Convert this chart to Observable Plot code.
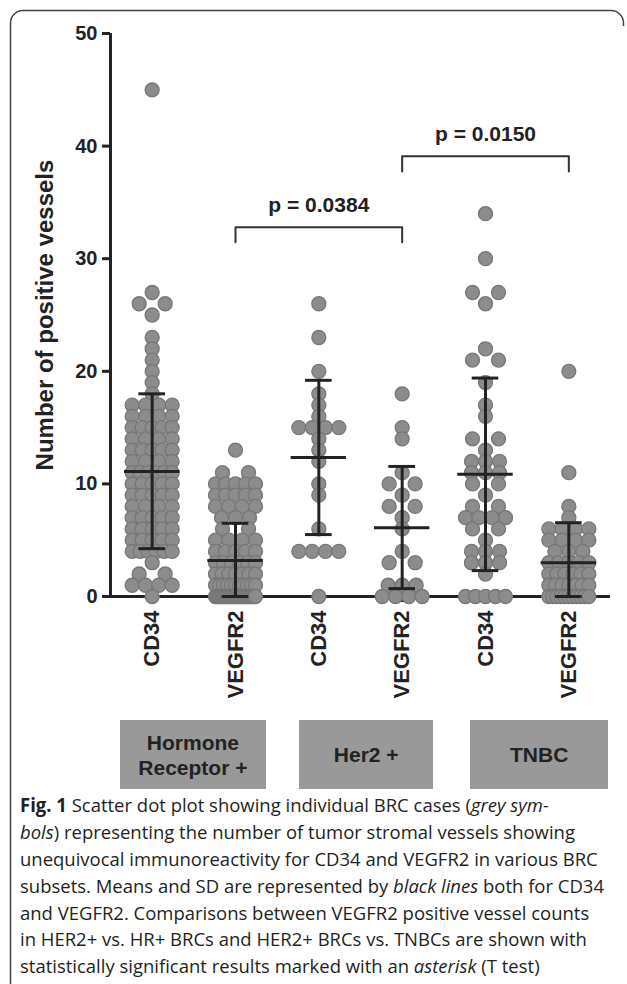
<!DOCTYPE html>
<html>
<head>
<meta charset="utf-8">
<script src="https://cdn.jsdelivr.net/npm/d3@7"></script>
<script src="https://cdn.jsdelivr.net/npm/@observablehq/plot@0.6"></script>
<style>
  html, body { margin: 0; padding: 0; background: #fff; }
  #wrap { position: relative; width: 627px; height: 984px; overflow: hidden; background: #fff; }
  #chart { position: absolute; left: 0; top: 0; }
  #frame { position: absolute; left: 0; top: 0; pointer-events: none; }
  .gbox { position: absolute; background: #999; color: #222; display: flex; align-items: center; justify-content: center;
          text-align: center; font-family: "Liberation Sans", Arial, sans-serif; font-weight: bold; font-size: 21px; line-height: 25px; white-space: pre; }
  #caption { position: absolute; left: 20px; top: 792px; font-family: "Open Sans", sans-serif; font-size: 19px; color: #231f20; }
  #caption div { white-space: nowrap; height: 26.9px; line-height: 26.9px; transform-origin: 0 50%; }
  #caption b { font-weight: bold; }
</style>
</head>
<body>
<div id="wrap">
  <div id="chart"></div>
  <div id="boxes"></div>
  <div id="caption"></div>
  <svg id="frame" width="627" height="984"><path d="M10.5,984 V23 A12.5,12.5 0 0 1 23,10.5 H611 A12.5,12.5 0 0 1 623.5,23 V26" fill="none" stroke="#444" stroke-width="1.5"/></svg>
</div>
<script>
// ---------- data ----------
const categories = ["CD34", "VEGFR2", "CD34", "VEGFR2", "CD34", "VEGFR2"];

const hrCD34 = [45, 27, 26, 26, 25, 23, 22, 21, 20, 19, 18,
  17, 17, 17, 17, 16, 16, 16, 16, 15, 15, 15, 15, 15, 14, 14, 14, 14,
  13, 13, 13, 13, 13, 12, 12, 12, 12, 11, 11, 11, 11, 11, 11,
  10, 10, 10, 10, 10, 9, 9, 9, 9, 9, 8, 8, 8, 8, 7, 7, 7, 7, 7,
  6, 6, 6, 6, 6, 5, 5, 5, 5, 5, 4, 4, 4, 4, 4, 4, 3, 2, 2, 1, 1, 1, 1, 0];
const hrVEGFR2 = [13, 11, 11, 10, 10, 10, 10, 10, 9, 9, 9, 9, 9, 8, 8, 8, 8, 7, 7, 7, 6, 6,
  5, 5, 5, 5, 4, 4, 4, 4, 4, 3, 3, 3, 3, 3, 3, 2, 2, 2, 2, 2, 2, 2,
  1, 1, 1, 1, 1, 1, 1, 1, 1, 1, 1,
  0, 0, 0, 0, 0, 0, 0, 0, 0, 0, 0, 0, 0, 0, 0, 0, 0, 0, 0, 0, 0, 0, 0, 0, 0, 0, 0, 0, 0, 0, 0, 0];
const her2CD34 = [26, 23, 20, 18, 17, 16, 15, 15, 15, 15, 14, 13, 12, 10, 9, 6, 4, 4, 4, 4, 0];
const her2VEGFR2 = [18, 15, 14, 11, 10, 10, 9, 8, 8, 7, 6, 4, 3, 3, 1, 1, 1, 0, 0, 0, 0];
const tnbcCD34 = [34, 30, 27, 27, 26, 22, 21, 21, 19, 17, 16, 14, 14, 13, 12, 12, 12, 11, 11, 11,
  10, 10, 9, 8, 8, 7, 7, 7, 7, 6, 6, 5, 4, 4, 4, 3, 3, 3, 2, 0, 0, 0, 0, 0];
const tnbcVEGFR2 = [20, 11, 8, 7, 6, 6, 6, 6, 5, 5, 5, 5, 4, 4, 4, 3, 3, 3, 3, 3,
  2, 2, 2, 2, 2, 2, 1, 1, 1, 1, 1, 1, 1, 0, 0, 0, 0, 0, 0, 0, 0, 0, 0, 0];

const means   = [11.1, 3.2, 12.35, 6.1, 10.85, 3.0];
const sdUpper = [18.0, 6.5, 19.2, 11.55, 19.4, 6.55];
const sdLower = [4.25, 0.0, 5.5, 0.7, 2.3, 0.0];

const yTicks = [0, 10, 20, 30, 40, 50];
const yLabel = "Number of positive vessels";

const groupNames = ["Hormone\nReceptor +", "Her2 +", "TNBC"];

const bracketFrom = [1, 3];
const bracketTo = [3, 5];
const bracketTop = [32.8, 39.1];
const bracketLeg = [31.45, 37.75];
const bracketLabels = ["p = 0.0384", "p = 0.0150"];

const captionLines = [
  ["Fig. 1", "  Scatter dot plot showing individual BRC cases (", "grey sym-", ""],
  ["", "", "bols", ") representing the number of tumor stromal vessels showing"],
  ["", "unequivocal immunoreactivity for CD34 and VEGFR2 in various BRC", "", ""],
  ["", "subsets. Means and SD are represented by ", "black lines", " both for CD34"],
  ["", "and VEGFR2. Comparisons between VEGFR2 positive vessel counts", "", ""],
  ["", "in HER2+ vs. HR+ BRCs and HER2+ BRCs vs. TNBCs are shown with", "", ""],
  ["", "statistically significant results marked with an ", "asterisk", " (T test)"]
];

// ---------- layout (not data) ----------
const W = 627, H = 712;
const mL = 110, mR = 17, mT = 33, mB = 116;
const PX = (W - mL - mR) / categories.length; // px per category unit
const boxSpans = [[-0.38, 1.37], [1.77, 3.38], [3.82, 5.48]];
const boxTop = 720, boxHeight = 69;

// ---------- derived mark data ----------
const groupValues = [hrCD34, hrVEGFR2, her2CD34, her2VEGFR2, tnbcCD34, tnbcVEGFR2];
const dots = [];
groupValues.forEach((vals, cat) => {
  for (const [v, arr] of d3.group(vals, d => d)) {
    const n = arr.length;
    const s = n <= 1 ? 0 : n === 2 ? 26 : Math.min(14, 40 / (n - 1));
    arr.forEach((_, i) => dots.push({cat, value: v, off: (i - (n - 1) / 2) * s}));
  }
});
const stats = categories.map((c, i) => ({cat: i, mean: means[i], upper: sdUpper[i], lower: sdLower[i]}));
const brackets = bracketFrom.map((f, i) => ({i, from: f, to: bracketTo[i], top: bracketTop[i], leg: bracketLeg[i], label: bracketLabels[i]}));
const bracketPts = brackets.flatMap(b => [
  {i: b.i, x: b.from, y: b.leg}, {i: b.i, x: b.from, y: b.top},
  {i: b.i, x: b.to, y: b.top}, {i: b.i, x: b.to, y: b.leg}]);

const meanHalf = 27.7 / PX, capHalf = 13.3 / PX;

const chart = Plot.plot({
  width: W, height: H,
  marginLeft: mL, marginRight: mR, marginTop: mT, marginBottom: mB,
  style: {fontFamily: "'Liberation Sans', Arial, sans-serif", fontWeight: "bold", color: "#222", background: "transparent"},
  x: {domain: [-0.5, categories.length - 0.5]},
  y: {domain: [0, 50]},
  marks: [
    Plot.ruleY([0], {stroke: "#222", strokeWidth: 3}),
    Plot.ruleX([-0.5], {stroke: "#222", strokeWidth: 3}),
    Plot.axisY({ticks: yTicks, tickSize: 8, tickPadding: 5, strokeWidth: 3, fontSize: 20, label: null}),
    Plot.axisX({ticks: categories.map((_, i) => i), tickFormat: i => categories[i], tickRotate: -90,
                tickSize: 6, tickPadding: 8, strokeWidth: 3, fontSize: 22, label: null}),
    Plot.text([yLabel], {frameAnchor: "left", textAnchor: "middle", lineAnchor: "middle", rotate: -90, dx: -65, fontSize: 24, fill: "#222"}),
    Plot.dot(dots, {x: d => d.cat + d.off / PX, y: "value", r: 7, fill: "#8c8c8c", stroke: "#777", strokeWidth: 1.3}),
    Plot.ruleX(stats, {x: "cat", y1: "lower", y2: "upper", stroke: "#222", strokeWidth: 3}),
    Plot.ruleY(stats, {y: "mean", x1: d => d.cat - meanHalf, x2: d => d.cat + meanHalf, stroke: "#222", strokeWidth: 3}),
    Plot.ruleY(stats, {y: "upper", x1: d => d.cat - capHalf, x2: d => d.cat + capHalf, stroke: "#222", strokeWidth: 3}),
    Plot.ruleY(stats, {y: "lower", x1: d => d.cat - capHalf, x2: d => d.cat + capHalf, stroke: "#222", strokeWidth: 3}),
    Plot.line(bracketPts, {x: "x", y: "y", z: "i", stroke: "#333", strokeWidth: 2}),
    Plot.text(brackets, {x: d => (d.from + d.to) / 2, y: "top", text: "label", dy: -15, lineAnchor: "bottom", fontSize: 21, fill: "#222"})
  ]
});
document.getElementById("chart").appendChild(chart);

// group boxes positioned with the chart's x scale
const xs = chart.scale("x");
const boxes = document.getElementById("boxes");
groupNames.forEach((name, i) => {
  const [a, b] = boxSpans[i];
  const x1 = xs.apply(a), x2 = xs.apply(b);
  const div = document.createElement("div");
  div.className = "gbox";
  div.style.left = x1 + "px";
  div.style.width = (x2 - x1) + "px";
  div.style.top = boxTop + "px";
  div.style.height = boxHeight + "px";
  div.textContent = name;
  boxes.appendChild(div);
});

// caption
const cap = document.getElementById("caption");
captionLines.forEach(([bold, plain, ital, rest]) => {
  const div = document.createElement("div");
  if (bold) { const b = document.createElement("b"); b.textContent = bold; div.appendChild(b); }
  if (plain) div.appendChild(document.createTextNode(plain));
  if (ital) { const it = document.createElement("i"); it.textContent = ital; div.appendChild(it); }
  if (rest) div.appendChild(document.createTextNode(rest));
  cap.appendChild(div);
});
const ref = cap.children[2];
const natural = ref.getBoundingClientRect().width;
const k = 584 / natural;
for (const d of cap.children) d.style.transform = `scaleX(${k})`;
</script>
</body>
</html>
